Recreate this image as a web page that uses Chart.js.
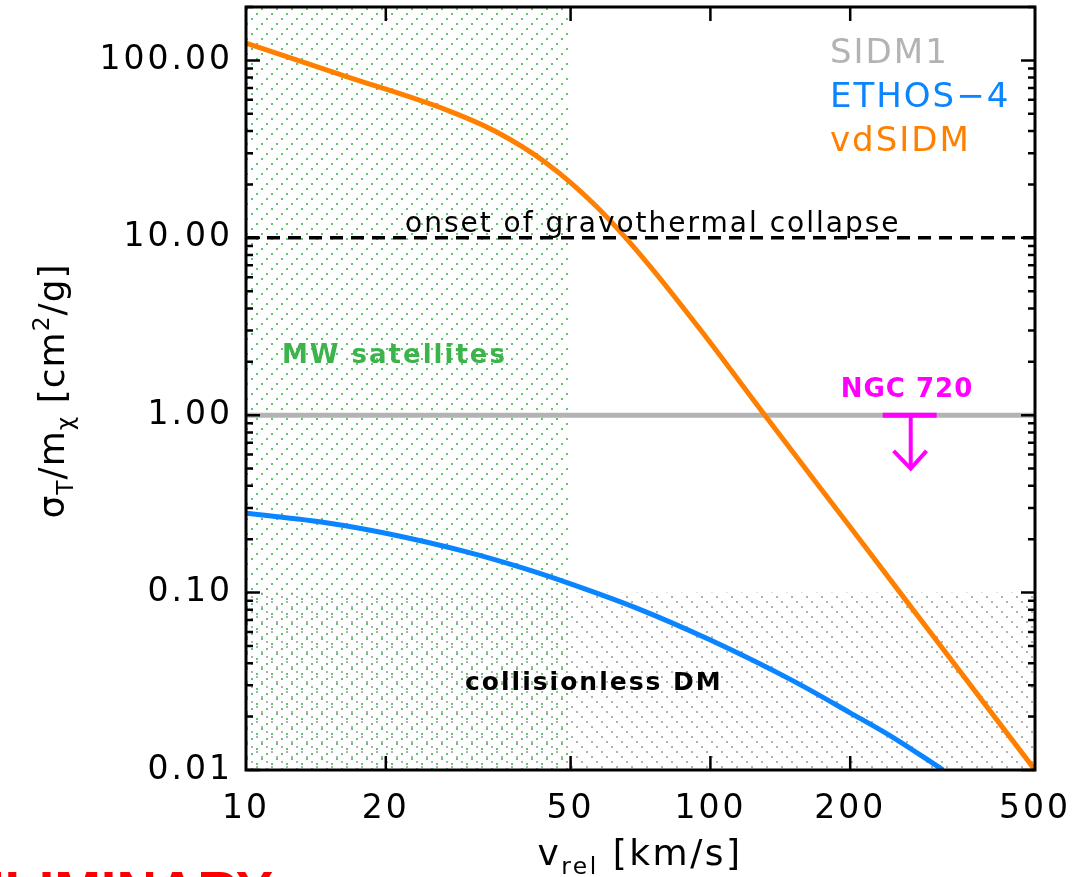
<!DOCTYPE html>
<html>
<head>
<meta charset="utf-8">
<script src="https://cdn.jsdelivr.net/npm/chart.js@4.4.1/dist/chart.umd.min.js"></script>
<style>
  html, body { margin: 0; padding: 0; background: #fff; }
  #wrap { width: 1076px; height: 877px; overflow: hidden; }
</style>
</head>
<body>
<div id="wrap"><canvas id="sigmaChart" width="1076" height="877"></canvas></div>
<script>
// Transfer cross section per unit mass (cm^2/g) vs relative velocity (km/s)
const vdsidmV = [10, 16.4, 27, 34.5, 44.3, 56.7, 72.7, 95, 131, 200, 300, 500];
const vdsidmSigma = [125, 81.3, 52.6, 39.7, 26.4, 15.1, 7.35, 3.05, 1.0, 0.234, 0.058, 0.01];

const ethosV = [10, 15, 20, 30, 40, 50, 70, 100, 150, 200, 250, 317];
const ethosSigma = [0.28, 0.247, 0.216, 0.169, 0.136, 0.112, 0.081, 0.054, 0.032, 0.021, 0.015, 0.01];

const sidmV = [10, 500];
const sidmSigma = [1, 1];

// gravothermal collapse threshold
const collapseV = [10, 500];
const collapseSigma = [10, 10];

// NGC 720 upper limit: bar, stem and arrow head
const ngcBarV = [235, 307];
const ngcBarSigma = [1, 1];
const ngcStemV = [270, 270];
const ngcStemSigma = [1, 0.5];
const ngcHeadV = [248, 270, 292];
const ngcHeadSigma = [0.63, 0.5, 0.63];

// shaded regions
const mwMaxV = 50;
const collisionlessMaxSigma = 0.1;

const modelNames = ['SIDM1', 'ETHOS\u22124', 'vdSIDM'];
const modelColors = ['#b3b3b3', '#0a84ff', '#ff8000'];

const xTicks = [10, 20, 50, 100, 200, 500];
const yTicks = [0.01, 0.1, 1, 10, 100];
const xRange = [10, 500];
const yRange = [0.01, 200];

const FONT = 'DejaVu Sans';

const pts = (xs, ys) => xs.map((x, i) => ({ x, y: ys[i] }));

function hatchPattern(ctx, color, rising) {
  const s = 15;
  const tile = document.createElement('canvas');
  tile.width = s; tile.height = s;
  const g = tile.getContext('2d');
  g.fillStyle = color;
  for (let i = 0; i < 3; i++) {
    const px = 1 + i * 5;
    const py = rising ? s - 2 - i * 5 : 1 + i * 5;
    g.fillRect(px, py, 2, 2);
  }
  return ctx.createPattern(tile, 'repeat');
}

// text with sub/superscripts: parts = [[text, shift]] shift -1 sub, 1 sup
function richWidth(ctx, parts, size) {
  let w = 0;
  parts.forEach(([t, s]) => {
    ctx.font = `${s ? size * 0.65 : size}px "${FONT}"`;
    w += ctx.measureText(t).width;
  });
  return w;
}
function drawRich(ctx, parts, x, y, size, spacing) {
  ctx.letterSpacing = spacing + 'px';
  let cx = x - richWidth(ctx, parts, size) / 2;
  parts.forEach(([t, s]) => {
    ctx.font = `${s ? size * 0.65 : size}px "${FONT}"`;
    const dy = s < 0 ? size * 0.25 : s > 0 ? -size * 0.42 : 0;
    ctx.fillText(t, cx, y + dy);
    cx += ctx.measureText(t).width;
  });
}

function label(ctx, text, x, y, font, color, spacing, align) {
  ctx.font = font;
  ctx.fillStyle = color;
  ctx.letterSpacing = spacing + 'px';
  ctx.textAlign = align || 'left';
  ctx.textBaseline = 'alphabetic';
  ctx.fillText(text, x, y);
}

const regionPlugin = {
  id: 'regions',
  beforeDraw(chart) {
    chart.ctx.letterSpacing = '3px';
  },
  beforeDatasetsDraw(chart) {
    const { ctx, chartArea: a, scales: { x, y } } = chart;
    ctx.save();
    const yCut = y.getPixelForValue(collisionlessMaxSigma);
    ctx.fillStyle = hatchPattern(ctx, 'rgba(80,80,80,0.45)', false);
    ctx.fillRect(a.left, yCut, a.right - a.left, a.bottom - yCut);
    const xCut = x.getPixelForValue(mwMaxV);
    ctx.fillStyle = hatchPattern(ctx, 'rgba(60,180,75,0.8)', true);
    ctx.fillRect(a.left, a.top, xCut - a.left, a.bottom - a.top);
    ctx.restore();
  }
};

const notesPlugin = {
  id: 'notes',
  afterDatasetsDraw(chart) {
    const ctx = chart.ctx;
    ctx.save();
    label(ctx, 'onset of gravothermal collapse', 405, 232, `28px "${FONT}"`, '#000', 2);
    label(ctx, 'MW satellites', 282, 363, `bold 26px "${FONT}"`, '#3cb44b', 2);
    label(ctx, 'collisionless DM', 465, 690, `bold 25px "${FONT}"`, '#000', 2);
    label(ctx, 'NGC 720', 907, 397, `bold 26px "${FONT}"`, '#ff00ff', 1, 'center');
    modelNames.forEach((n, i) => {
      label(ctx, n, 830, 63 + i * 44, `34px "${FONT}"`, modelColors[i], 2);
    });
    ctx.restore();
  }
};

const framePlugin = {
  id: 'frame',
  afterDraw(chart) {
    const { ctx, chartArea: a, scales: { x, y } } = chart;
    ctx.save();
    ctx.strokeStyle = '#000';
    ctx.lineWidth = 2.5;
    ctx.beginPath();
    for (let e = -2; e <= 2; e++) {
      for (let k = 1; k <= 9; k++) {
        const v = k * Math.pow(10, e);
        if (v < yRange[0] * 0.999 || v > yRange[1] * 1.001) continue;
        const py = y.getPixelForValue(v);
        const len = k === 1 ? 14 : 7;
        ctx.moveTo(a.left, py); ctx.lineTo(a.left + len, py);
        ctx.moveTo(a.right, py); ctx.lineTo(a.right - len, py);
      }
    }
    xTicks.slice(1, -1).forEach(v => {
      const px = x.getPixelForValue(v);
      ctx.moveTo(px, a.bottom); ctx.lineTo(px, a.bottom - 14);
      ctx.moveTo(px, a.top); ctx.lineTo(px, a.top + 14);
    });
    ctx.stroke();
    ctx.lineWidth = 3;
    ctx.strokeRect(a.left, a.top, a.right - a.left, a.bottom - a.top);

    // axis titles
    ctx.fillStyle = '#000';
    ctx.textAlign = 'left';
    ctx.textBaseline = 'alphabetic';
    drawRich(ctx, [['v', 0], ['rel', -1], [' [km/s]', 0]], 640, 865, 36, 2.5);
    ctx.save();
    ctx.translate(64, 391);
    ctx.rotate(-Math.PI / 2);
    drawRich(ctx, [['\u03c3', 0], ['T', -1], ['/m', 0], ['\u03c7', -1], [' [cm', 0], ['2', 1], ['/g]', 0]], 0, 0, 36, 1);
    ctx.restore();

    label(ctx, 'PRELIMINARY', 273, 910, 'bold 56px "Liberation Sans"', '#ff0000', 0, 'right');
    ctx.restore();
    ctx.letterSpacing = '0px';
  }
};

const line = (data, color, width, extra) => Object.assign({
  data, borderColor: color, borderWidth: width, pointRadius: 0,
  fill: false, cubicInterpolationMode: 'monotone'
}, extra || {});

new Chart(document.getElementById('sigmaChart'), {
  type: 'line',
  data: {
    datasets: [
      line(pts(ngcBarV, ngcBarSigma), '#ff00ff', 5, { borderCapStyle: 'butt' }),
      line(pts(ngcStemV, ngcStemSigma), '#ff00ff', 4),
      line(pts(ngcHeadV, ngcHeadSigma), '#ff00ff', 4, { cubicInterpolationMode: 'default', tension: 0 }),
      line(pts(vdsidmV, vdsidmSigma), modelColors[2], 5, { label: modelNames[2] }),
      line(pts(ethosV, ethosSigma), modelColors[1], 5, { label: modelNames[1] }),
      line(pts(sidmV, sidmSigma), modelColors[0], 5, { label: modelNames[0] }),
      line(pts(collapseV, collapseSigma), '#000', 3.5, { borderDash: [13, 8] })
    ]
  },
  options: {
    responsive: false,
    devicePixelRatio: 1,
    animation: false,
    layout: { padding: { top: 7, right: 41, left: 0, bottom: 0 } },
    plugins: { legend: { display: false }, tooltip: { enabled: false } },
    scales: {
      x: {
        type: 'logarithmic', min: xRange[0], max: xRange[1],
        grid: { display: false, drawTicks: false }, border: { display: false },
        afterBuildTicks: s => { s.ticks = xTicks.map(v => ({ value: v })); },
        afterFit: s => { s.height = 107; s.paddingLeft = 0; s.paddingRight = 0; },
        ticks: {
          autoSkip: false, maxRotation: 0, minRotation: 0, padding: 20, color: '#000',
          font: { family: FONT, size: 33 }, callback: v => String(v)
        }
      },
      y: {
        type: 'logarithmic', min: yRange[0], max: yRange[1],
        grid: { display: false, drawTicks: false }, border: { display: false },
        afterBuildTicks: s => { s.ticks = yTicks.map(v => ({ value: v })); },
        afterFit: s => { s.width = 246; s.paddingTop = 0; s.paddingBottom = 0; },
        ticks: {
          autoSkip: false, padding: 13, color: '#000',
          font: { family: FONT, size: 33 }, callback: v => Number(v).toFixed(2)
        }
      }
    }
  },
  plugins: [regionPlugin, notesPlugin, framePlugin]
});
</script>
</body>
</html>
